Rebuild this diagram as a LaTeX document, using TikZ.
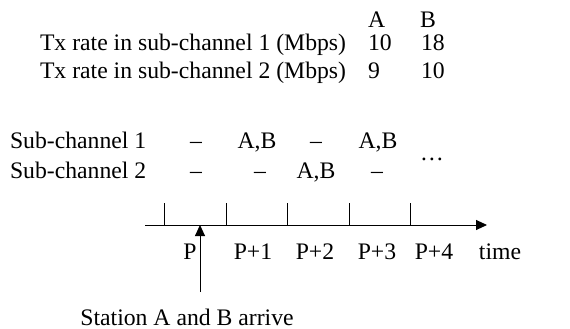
\documentclass[tikz,border=0pt]{standalone}
\usepackage{fontspec}
\setmainfont{Liberation Serif}
\usetikzlibrary{arrows.meta}
\begin{document}
\begin{tikzpicture}[x=1pt, y=-1pt,
  txt/.style={inner sep=0pt, outer sep=0pt, font=\fontsize{23.7}{28}\selectfont},
  lft/.style={txt, anchor=base west},
  mid/.style={txt, anchor=base},
  line/.style={line width=0.9pt},
  tip/.style={-{Triangle[length=11pt,width=10pt]}}]
\useasboundingbox (0,0) rectangle (570,329);

% rate table
\node[lft] (hA) at (368,28) {A};
\node[lft] (hB) at (420,28) {B};
\node[lft] (r1) at (40,51) {Tx rate in sub-channel 1 (Mbps)};
\node[lft] (r2) at (40,78) {Tx rate in sub-channel 2 (Mbps)};
\node[lft] (r1A) at (368,51) {10};
\node[lft] (r1B) at (421,51) {18};
\node[lft] (r2A) at (368,78) {9};
\node[lft] (r2B) at (421,78) {10};

% sub-channel schedule
\node[lft] (s1) at (10,148) {Sub-channel 1};
\node[lft] (s2) at (10,178) {Sub-channel 2};
\node[mid] (s1a) at (196,148) {–};
\node[mid] (s1b) at (257,148) {A,B};
\node[mid] (s1c) at (316,148) {–};
\node[mid] (s1d) at (378,148) {A,B};
\node[mid] (s2a) at (196,178) {–};
\node[mid] (s2b) at (260,178) {–};
\node[mid] (s2c) at (316,178) {A,B};
\node[mid] (s2d) at (377,178) {–};
\node[mid] (dots) at (432,160) {…};

% time axis with slot boundaries
\coordinate (axL) at (145,225);
\coordinate (axR) at (487,225);
\draw[line, tip] (axL) -- (axR);
\foreach \i/\x in {0/164,1/226,2/287,3/349,4/410}{
  \coordinate (tb\i) at (\x,225);
  \coordinate (tt\i) at (\x,203);
  \draw[line] (tb\i) -- (tt\i);
}

% slot labels
\node[mid] (p0) at (190,259) {P};
\node[mid] (p1) at (253,259) {P+1};
\node[mid] (p2) at (315,259) {P+2};
\node[mid] (p3) at (377,259) {P+3};
\node[mid] (p4) at (434,259) {P+4};
\node[mid] (tm) at (500,259) {time};

% arrival marker
\coordinate (arrBot) at (200,292);
\coordinate (arrTop) at (200,225);
\draw[line, tip] (arrBot) -- (arrTop);
\node[mid] (arr) at (187,325) {Station A and B arrive};
\end{tikzpicture}
\end{document}
